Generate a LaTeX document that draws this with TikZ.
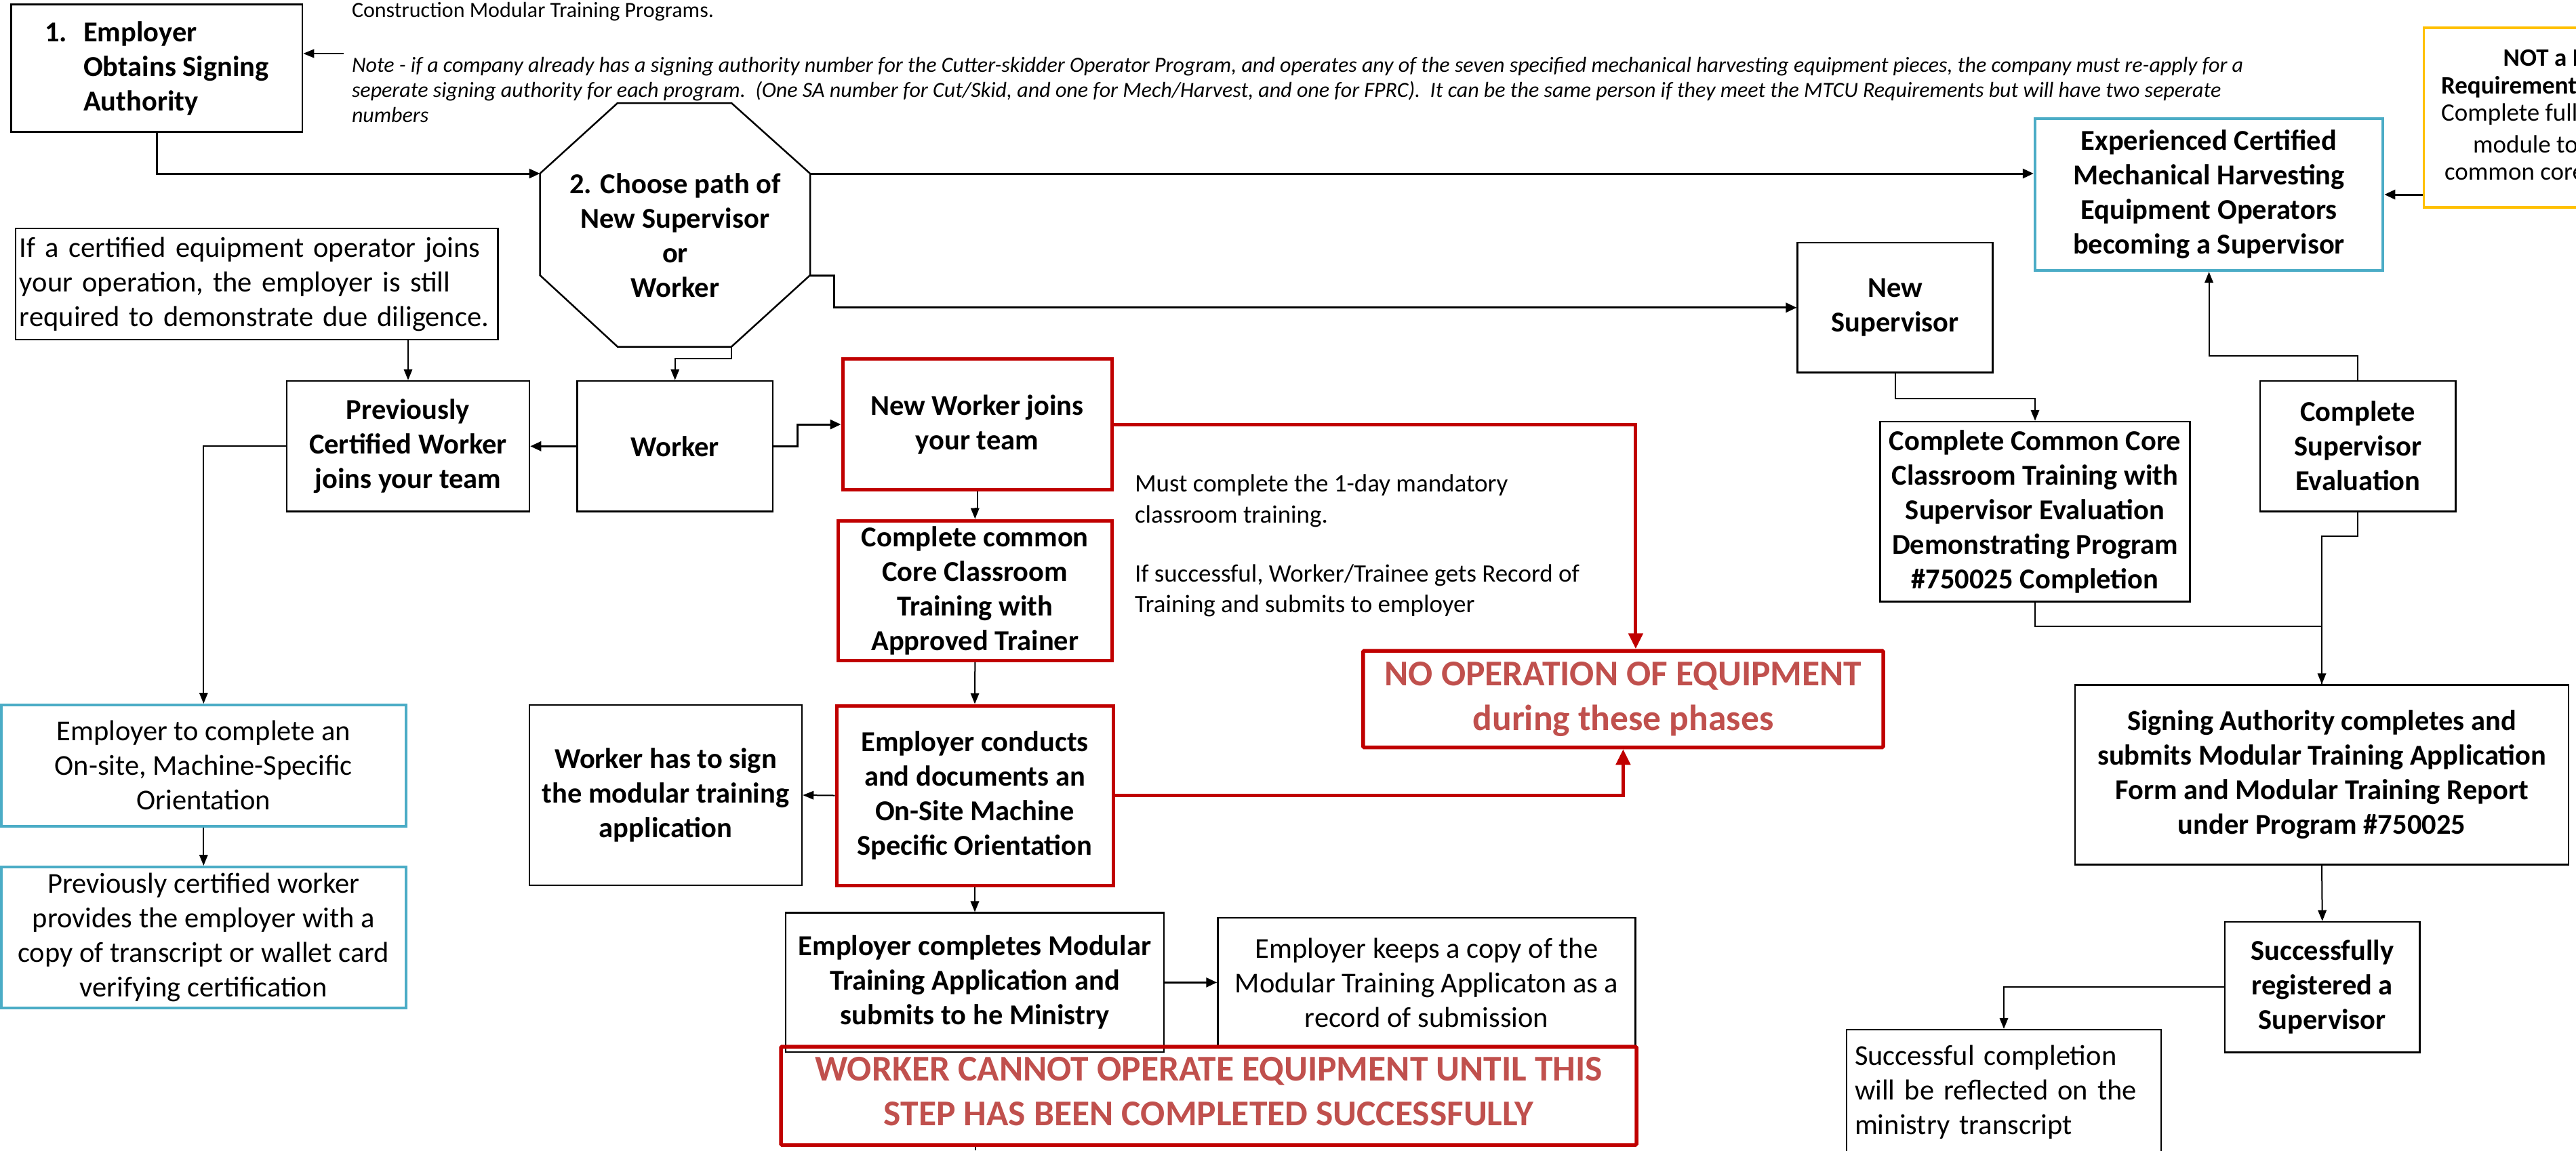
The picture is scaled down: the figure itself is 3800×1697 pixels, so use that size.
\documentclass[tikz,border=0pt]{standalone}
\usepackage{fontspec}
\setmainfont{Carlito}
\usetikzlibrary{arrows.meta,calc}
\definecolor{boxred}{HTML}{C00000}
\definecolor{txtred}{HTML}{C0504D}
\definecolor{boxblue}{HTML}{4BACC6}
\definecolor{boxyellow}{HTML}{FFC000}
\newcommand\FB{\fontsize{8.5}{10.2}\selectfont\bfseries}
\newcommand\FR{\fontsize{8.5}{10.2}\selectfont}
\newcommand\FM{\fontsize{7.4}{9.1}\selectfont}
\newcommand\FN{\fontsize{6.4}{7.4}\selectfont}
\newcommand\FBig{\fontsize{10.7}{13.2}\selectfont\bfseries}
\newcommand\FY{\fontsize{7.4}{8.6}\selectfont}
\begin{document}
\begin{tikzpicture}[x=0.2pt,y=-0.2pt,
  sz/.style 2 args={minimum width=#1*0.2pt, minimum height=#2*0.2pt},
  bx/.style={draw=black, line width=0.5pt, inner sep=0pt, align=center, font=\FB},
  redbx/.style={bx, draw=boxred, line width=1pt},
  bluebx/.style={bx, draw=boxblue, line width=0.8pt, font=\FR},
  warnbx/.style={draw=boxred, line width=1.1pt, rounded corners=0.3pt, inner sep=0pt, align=center, font=\FBig, text=txtred},
  warntext/.style={inner sep=0pt, align=center, font=\FBig, text=txtred},
  txt/.style={inner sep=0pt, anchor=west, align=left},
  conn/.style={line width=0.4pt, -{Triangle[length=3.2pt,width=2.5pt]}},
  thickconn/.style={line width=0.6pt, -{Triangle[length=3.2pt,width=2.8pt]}},
  redconn/.style={draw=boxred, line width=1pt, -{Triangle[length=4.6pt,width=4.2pt]}},
]
\useasboundingbox (0,0) rectangle (3800,1697);
\clip (0,0) rectangle (3800,1697);

% top texts
\node[bx, sz={429.4}{188.2}, align=left] (box1) at (231.3,100.5)
  {\makebox[11.4pt][l]{1.}Employer\\\hspace*{11.4pt}Obtains Signing\\\hspace*{11.4pt}Authority};
\node[txt, font=\FN] (toptext) at (518,17) {Construction Modular Training Programs.};
\node[txt, font=\FN\itshape] (note) at (518,132)
  {Note - if a company already has a signing authority number for the Cutter-skidder Operator Program, and operates any of the seven specified mechanical harvesting equipment pieces, the company must re-apply for a\\
   seperate signing authority for each program.\ \ (One SA number for Cut/Skid, and one for Mech/Harvest, and one for FPRC).\ \ It can be the same person if they meet the MTCU Requirements but will have two seperate\\
   numbers};
\coordinate (notearrow) at (507,79);

% octagon
\node[sz={396.5}{357.5}, inner sep=0pt] (oct) at (995.75,331.75) {};
\coordinate (oTL) at ($(oct.north west)+(114.5,0)$);
\coordinate (oTR) at ($(oct.north east)+(-116,0)$);
\coordinate (oUR) at ($(oct.north east)+(0,104)$);
\coordinate (oLR) at ($(oct.south east)+(0,-105.5)$);
\coordinate (oBR) at ($(oct.south east)+(-116,0)$);
\coordinate (oBL) at ($(oct.south west)+(114.5,0)$);
\coordinate (oLL) at ($(oct.south west)+(0,-105.5)$);
\coordinate (oUL) at ($(oct.north west)+(0,104)$);
\draw[line width=0.5pt] (oTL) -- (oTR) -- (oUR) -- (oLR) -- (oBR) -- (oBL) -- (oLL) -- (oUL) -- cycle;
\node[font=\FB, align=center, inner sep=0pt] (octlabel) at (996,347) {2. Choose path of\\New Supervisor\\or\\Worker};

% left column
\node[bx, font=\FR, align=left, text width=139.9pt, inner xsep=0pt, sz={711.5}{164.2}] (ifcert) at (378.75,418.9)
  {If a certified equipment operator joins\\your operation, the employer is still\\required to demonstrate due diligence.};
\node[bx, sz={358}{192.6}] (prevcert) at (602,658.3) {Previously\\Certified Worker\\joins your team};
\node[bx, sz={288.5}{192.6}] (worker) at (995.75,658.3) {Worker};
\node[bluebx, sz={596.6}{178.7}] (empcomplete) at (300.3,1129.35) {Employer to complete an\\On-site, Machine-Specific\\Orientation};
\node[bluebx, sz={596.6}{207.7}] (prevcertworker) at (300.3,1382.85) {Previously certified worker\\provides the employer with a\\copy of transcript or wallet card\\verifying certification};
\node[bx, sz={402}{266}] (workersign) at (982,1173) {Worker has to sign\\the modular training\\application};

% middle column
\node[redbx, sz={397}{192.8}] (newworker) at (1441.5,626.1) {New Worker joins\\your team};
\node[redbx, sz={403.4}{206.5}] (commoncore) at (1438.3,871.25) {Complete common\\Core Classroom\\Training with\\Approved Trainer};
\node[redbx, sz={408}{265}] (empconducts) at (1438,1173.5) {Employer conducts\\and documents an\\On-Site Machine\\Specific Orientation};
\node[bx, sz={558}{205.3}] (empcompletes) at (1438,1449.35) {Employer completes Modular\\Training Application and\\submits to he Ministry};
\node[bx, font=\FR, sz={616.1}{191}] (keeps) at (2104.55,1449.5) {Employer keeps a copy of the\\Modular Training Applicaton as a\\record of submission};
\node[warnbx, sz={1262}{145}] (workercannot) at (1783,1616.5) {};
\node[warntext] (workercannottext) at (1783,1610) {WORKER CANNOT OPERATE EQUIPMENT UNTIL THIS\\STEP HAS BEEN COMPLETED SUCCESSFULLY};
\node[warnbx, sz={767.2}{142.5}] (noop) at (2394.4,1031.25) {NO OPERATION OF EQUIPMENT\\during these phases};
\node[txt, font=\FM] (mustc) at (1673,805) {Must complete the 1-day mandatory\\classroom training.\\[8.3pt]If successful, Worker/Trainee gets Record of\\Training and submits to employer};
\coordinate (bottomend) at (1439,1697);

% right part
\node[bx, sz={287.7}{191.6}] (newsup) at (2795.55,453.8) {New\\Supervisor};
\node[bx, sz={456.8}{265.5}] (ccsup) at (3002,754.75) {Complete Common Core\\Classroom Training with\\Supervisor Evaluation\\Demonstrating Program\\\#750025 Completion};
\node[bx, sz={288.5}{192.4}] (cse) at (3478.25,658.2) {Complete\\Supervisor\\Evaluation};
\node[bluebx, font=\FB, sz={513.5}{224}] (exp) at (3258.55,287) {Experienced Certified\\Mechanical Harvesting\\Equipment Operators\\becoming a Supervisor};
\node[draw=boxyellow, line width=0.7pt, inner sep=0pt, sz={400}{265}] (yellowbox) at (3775.5,173.5) {};
\node[txt, font=\FY\bfseries] (y1) at (3691.7,85) {NOT a MTCU};
\node[txt, font=\FY\bfseries] (y2) at (3600,128) {Requirement};
\node[txt, font=\FY] (y3) at (3600,169) {Complete full};
\node[txt, font=\FY] (y4) at (3647,213) {module to};
\node[txt, font=\FY] (y5) at (3605,257) {common core};
\node[bx, sz={728}{265}] (sa) at (3425,1143.1) {Signing Authority completes and\\submits Modular Training Application\\Form and Modular Training Report\\under Program \#750025};
\node[bx, sz={287.5}{192.5}] (sr) at (3425.75,1456.25) {Successfully\\registered a\\Supervisor};
\node[bx, font=\FR, align=left, text width=88pt, inner xsep=2.4pt, sz={464}{185}] (sc) at (2956,1611.5) {Successful completion\\will be reflected on the\\ministry transcript};

% connectors
\draw[conn] (notearrow) -- (notearrow -| box1.east);
\draw[thickconn] (box1.south) |- (oUL);
\draw[thickconn] (oUR) -- (oUR -| exp.west);
\draw[thickconn] (oLR) -- ++(35.5,0) |- (newsup.west);
\draw[conn] (oBR) -- ++(0,17.5) -| (worker.north);
\draw[conn] (prevcert.north |- ifcert.south) -- (prevcert.north);
\draw[thickconn] (worker.west) -- (prevcert.east);
\draw[thickconn] (worker.east) -- ++(35.6,0) |- (newworker.west);
\draw[conn] (prevcert.west) -| (empcomplete.north);
\draw[conn] (empcomplete.south) -- (prevcertworker.north);
\draw[conn] (newworker.south) -- ++(0,25) -| (commoncore.north);
\draw[conn] (commoncore.south) -- (empconducts.north);
\draw[conn] (empconducts.west) -- (workersign.east);
\draw[conn] (empconducts.south) -- (empcompletes.north);
\draw[thickconn] (empcompletes.east) -- (empcompletes.east -| keeps.west);
\draw[redconn] (newworker.east) -| ($(noop.north)+(18.5,0)$);
\draw[redconn] (empconducts.east) -| (noop.south);
\draw[line width=0.4pt] (bottomend |- workercannot.south) -- (bottomend);
\draw[conn] (newsup.south) -- ++(0,37) -| (ccsup.north);
\draw[conn] (cse.north) -- ++(0,-35.6) -| (exp.south);
\draw[conn] (cse.south) -- ++(0,35.6) -| (sa.north);
\draw[line width=0.4pt] (ccsup.south) -- ++(0,35.2) -| (sa.north);
\draw[conn] (sa.south) -- (sr.north);
\draw[conn] (sr.west) -| (sc.north);
\draw[thickconn] (yellowbox.west |- exp.east) -- (exp.east);
\end{tikzpicture}
\end{document}
